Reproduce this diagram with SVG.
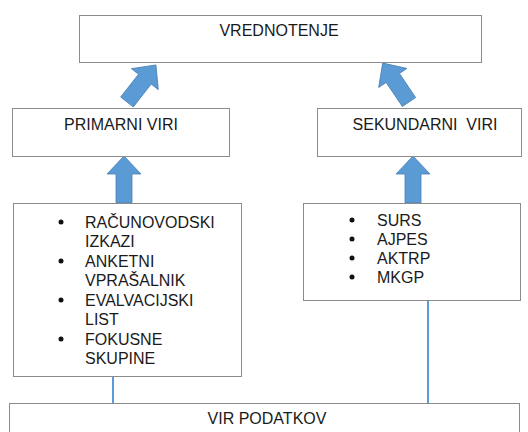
<svg xmlns="http://www.w3.org/2000/svg" width="528" height="432" viewBox="0 0 528 432">
<style>
.box{fill:#fff;stroke:#8c8c8c;stroke-width:1}
text{font-family:"Liberation Sans",Arial,sans-serif;font-size:16px;fill:#1a1a1a}
.c{text-anchor:middle}
.arr{fill:#5b9bd5;stroke:#4a7fb0;stroke-width:0.8}
.ln{stroke:#5b9bd5;stroke-width:2;fill:none}
.b{fill:#111}
</style>
<defs>
<polygon id="arrow" points="0,-8 29,-8 29,-17 47,0 29,17 29,8 0,8"/>
</defs>
<g id="connectors">
<line class="ln" x1="113" y1="376" x2="113" y2="403"/>
<line class="ln" x1="428" y1="301" x2="428" y2="403"/>
<use href="#arrow" class="arr" transform="translate(127,102) rotate(-52)"/>
<use href="#arrow" class="arr" transform="translate(409,102) rotate(-124)"/>
<use href="#arrow" class="arr" transform="translate(124,203) rotate(-90)"/>
<use href="#arrow" class="arr" transform="translate(413,203) rotate(-90)"/>
</g>
<g id="vrednotenje">
<rect class="box" x="79.5" y="15.5" width="402" height="47"/>
<text class="c" x="279" y="36">VREDNOTENJE</text>
</g>
<g id="primarni">
<rect class="box" x="12.5" y="108.5" width="217" height="48"/>
<text class="c" x="121" y="130">PRIMARNI VIRI</text>
</g>
<g id="sekundarni">
<rect class="box" x="317.5" y="108.5" width="204" height="48"/>
<text class="c" x="425" y="130" xml:space="preserve">SEKUNDARNI  VIRI</text>
</g>
<g id="primarni-seznam">
<rect class="box" x="13.5" y="203.5" width="228" height="173"/>
<circle class="b" cx="61" cy="222" r="2.5"/>
<circle class="b" cx="61" cy="261" r="2.5"/>
<circle class="b" cx="61" cy="300" r="2.5"/>
<circle class="b" cx="61" cy="339" r="2.5"/>
<text x="85" y="228">RAČUNOVODSKI</text>
<text x="85" y="247">IZKAZI</text>
<text x="85" y="267">ANKETNI</text>
<text x="85" y="286">VPRAŠALNIK</text>
<text x="85" y="306">EVALVACIJSKI</text>
<text x="85" y="325">LIST</text>
<text x="85" y="345">FOKUSNE</text>
<text x="85" y="364">SKUPINE</text>
</g>
<g id="sekundarni-seznam">
<rect class="box" x="303.5" y="203.5" width="217" height="97"/>
<circle class="b" cx="352" cy="220" r="2.5"/>
<circle class="b" cx="352" cy="239" r="2.5"/>
<circle class="b" cx="352" cy="258" r="2.5"/>
<circle class="b" cx="352" cy="277" r="2.5"/>
<text x="377" y="226">SURS</text>
<text x="377" y="245">AJPES</text>
<text x="377" y="264">AKTRP</text>
<text x="377" y="283">MKGP</text>
</g>
<g id="vir-podatkov">
<rect class="box" x="9.5" y="403.5" width="510" height="40"/>
<text class="c" x="267" y="424">VIR PODATKOV</text>
</g>
</svg>
